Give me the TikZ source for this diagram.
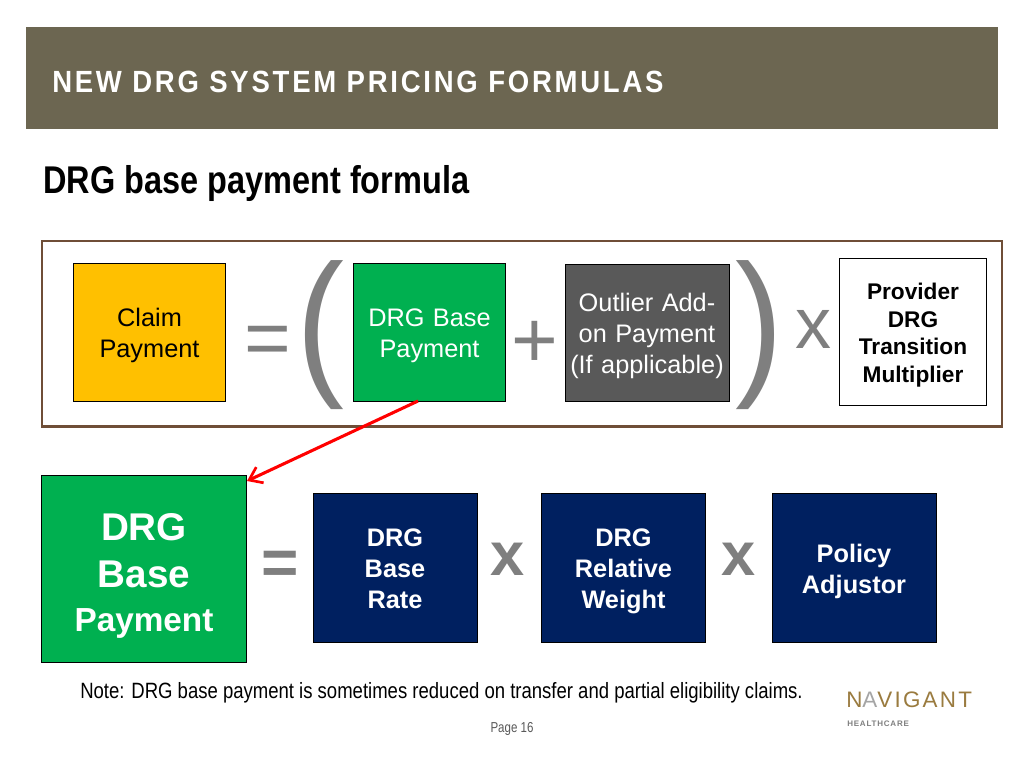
\documentclass[tikz,border=0pt]{standalone}
\usepackage{fontspec}
\setmainfont{Liberation Sans}
\newfontfamily\titlefont[LetterSpace=9,FakeStretch=0.897]{Liberation Sans}
\newfontfamily\headfont[FakeStretch=0.84]{Liberation Sans}
\newfontfamily\notefont[FakeStretch=0.837]{Liberation Sans}
\newfontfamily\pagefont[FakeStretch=0.8]{Liberation Sans}
\newfontfamily\logofont[LetterSpace=10]{Liberation Sans}
\usetikzlibrary{arrows.meta}
\definecolor{band}{HTML}{6C6651}
\definecolor{framec}{HTML}{6F4E37}
\definecolor{gold}{HTML}{FFC000}
\definecolor{greenb}{HTML}{00B050}
\definecolor{darkg}{HTML}{595959}
\definecolor{navy}{HTML}{002060}
\definecolor{opg}{HTML}{7F7F7F}
\definecolor{logog}{HTML}{9A7B3F}
\newcommand{\fs}[2]{\fontsize{#1}{#2}\selectfont}
\tikzset{x=0.75pt,y=-0.75pt,
  cell/.style={draw=black,line width=0.5pt,align=center,inner sep=0pt,text width=#1,
    execute at begin node={\rule{0pt}{1.15em}},execute at end node={\strut}},
  opsign/.style={text=opg,inner sep=0pt,anchor=center},
  paren/.style={text=opg,inner sep=0pt,anchor=center,font=\fs{120}{120},xscale=0.9}}
\begin{document}
\begin{tikzpicture}
\useasboundingbox (0,0) rectangle (1024,768);
\fill[white] (0,0) rectangle (1024,768);
\node[fill=band,minimum width=729pt,minimum height=76.5pt,inner sep=0pt] (band) at (512,78) {};
\node[anchor=west,text=white,inner sep=0pt,font=\titlefont\bfseries\fs{23}{26}] (title) at (52,82) {NEW DRG SYSTEM PRICING FORMULAS};
\node[anchor=west,inner sep=0pt,text=black,font=\headfont\bfseries\fs{29}{32}] (head) at (43,183) {DRG base payment formula};
\node[draw=framec,line width=2pt,minimum width=720pt,minimum height=139pt,inner sep=0pt] (frame) at (522,333.5) {};
% top row
\node[cell=114pt,fill=gold,minimum height=103.5pt,font=\fs{19}{23.3}] (claim) at (149.5,332.5) {Claim\\Payment};
\node[opsign,font=\fs{60}{60}] (eq1) at (268,346) {=};
\node[paren] (lp) at (320,335) {(};
\node[cell=114pt,fill=greenb,text=white,minimum height=103.5pt,font=\fs{19}{23.3}] (base) at (429.5,332.5) {DRG Base\\Payment};
\node[opsign,font=\fs{60}{60}] (plus) at (535,344) {+};
\node[cell=123pt,fill=darkg,text=white,minimum height=103pt,font=\fs{19}{23.3}] (outlier) at (647,333) {Outlier Add-\\on Payment\\(If applicable)};
\node[paren] (rp) at (759,335) {)};
\node[opsign,font=\fs{54}{54}] (x0) at (813,329) {x};
\node[cell=110pt,fill=white,minimum height=110pt,font=\bfseries\fs{17}{20.6}] (prov) at (913,332) {Provider\\DRG\\Transition\\Multiplier};
% bottom row
\node[draw=black,line width=0.5pt,align=center,inner sep=0pt,text width=153.5pt,fill=greenb,text=white,minimum height=140pt,font=\bfseries] (big) at (144,569) {\fs{29}{35}\rule{0pt}{31pt}DRG\par Base\par\fs{25}{33}Payment\par};
\node[opsign,font=\bfseries\fs{48}{48}] (eq2) at (280,568) {=};
\node[cell=123pt,fill=navy,text=white,minimum height=112pt,font=\bfseries\fs{19}{23.3}] (rate) at (395,568) {DRG\\Base\\Rate};
\node[opsign,font=\bfseries\fs{46}{46}] (x1) at (508,559) {x};
\node[cell=123pt,fill=navy,text=white,minimum height=112pt,font=\bfseries\fs{19}{23.3}] (weight) at (623.5,568) {DRG\\Relative\\Weight};
\node[opsign,font=\bfseries\fs{46}{46}] (x2) at (739,559) {x};
\node[cell=123pt,fill=navy,text=white,minimum height=112pt,font=\bfseries\fs{19}{23.3}] (policy) at (854,568) {Policy\\Adjustor};
\coordinate (arrowstart) at (418,401);
\coordinate (arrowend) at (247,481);
\draw[red,line width=2.3pt,-{Straight Barb[length=9pt,width=13pt,line width=2pt]}] (arrowstart) -- (arrowend);
\node[anchor=west,inner sep=0pt,font=\notefont\fs{16.6}{20}] (note) at (80,693) {Note: DRG base payment is sometimes reduced on transfer and partial eligibility claims.};
\node[inner sep=0pt,text=darkg,font=\pagefont\fs{10.8}{12}] (page) at (512,729) {Page 16};
% logo
\node[anchor=west,inner sep=0pt,text=logog,font=\logofont\fs{16.8}{20}] (logo) at (846,700) {N\textcolor{opg!70}{A}VIGANT};
\node[anchor=west,inner sep=0pt,text=opg,font=\logofont\bfseries\fs{6}{7}] (logob) at (847,724) {HEALTHCARE};
\end{tikzpicture}
\end{document}
